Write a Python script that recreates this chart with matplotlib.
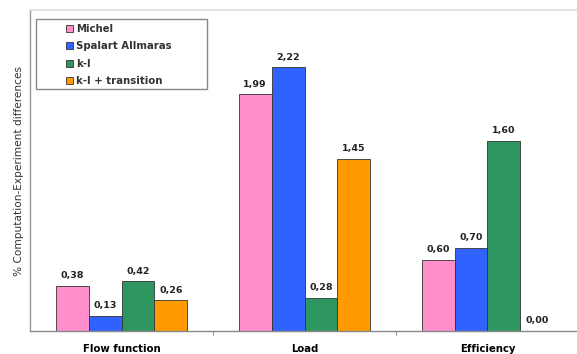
import matplotlib
matplotlib.use("Agg")
import matplotlib.pyplot as plt
from matplotlib.patches import Rectangle
import numpy as np

plt.rcParams['font.family'] = ['DejaVu Sans']

categories = ["Flow function", "Load", "Efficiency"]
series_names = ["Michel", "Spalart Allmaras", "k-l", "k-l + transition"]
michel = [0.38, 1.99, 0.60]
spalart = [0.13, 2.22, 0.70]
kl = [0.42, 0.28, 1.60]
kl_trans = [0.26, 1.45, 0.00]
colors = ["#FF8FCB", "#2F62FF", "#2E9660", "#FF9A00"]

W, H = 577, 354
fig = plt.figure(figsize=(W / 100, H / 100), dpi=100)
ax = fig.add_axes([30 / W, 23 / H, 549 / W, 321 / H])

x = np.arange(len(categories))
width = 0.18
all_series = [michel, spalart, kl, kl_trans]
for i, (vals, name, col) in enumerate(zip(all_series, series_names, colors)):
    pos = x + (i - 1.5) * width
    bars = ax.bar(pos, vals, width, color=col, edgecolor="#333333",
                  linewidth=0.6, label=name, zorder=2)
    for b, v in zip(bars, vals):
        ax.annotate(f"{v:.2f}".replace(".", ","),
                    (b.get_x() + b.get_width() / 2, v),
                    xytext=(0, 4), textcoords="offset points",
                    ha="center", va="bottom", fontsize=6.8,
                    fontweight="bold", color="#222222")

ax.set_xlim(-0.5, 2.5)
ax.set_ylim(0, 2.70)
ax.set_yticks([])
ax.set_xticks([0.5, 1.5])
ax.set_xticklabels([])
ax.set_xticks(x, minor=True)
ax.set_xticklabels(categories, minor=True, fontsize=7.3, fontweight="bold")
ax.tick_params(axis="x", which="major", length=3, width=0.6, color="#777777", direction="out")
ax.tick_params(axis="x", which="minor", length=0, pad=9)

ax.spines["left"].set_color("#999999")
ax.spines["top"].set_color("#DDDDDD")
ax.spines["right"].set_visible(False)
ax.spines["bottom"].set_color("#888888")
ax.spines["left"].set_linewidth(1.0)
ax.spines["top"].set_linewidth(1.2)
ax.spines["bottom"].set_linewidth(1.0)

ax.set_ylabel("% Computation-Experiment differences", fontsize=7.6,
              labelpad=4, color="#333333")

# legend box drawn separately so the entries sit indented inside it
ax.add_patch(Rectangle((36 / W, 1 - 89 / H), (207 - 36) / W, (89 - 19) / H,
                       transform=fig.transFigure, facecolor="white",
                       edgecolor="#888888", linewidth=1.0, zorder=3,
                       clip_on=False))
leg = ax.legend(loc="upper left", bbox_to_anchor=((66 - 30) / 549, 1 - (24 - 10) / 321),
                frameon=False, prop={"weight": "bold", "size": 7.3},
                handlelength=0.7, handleheight=0.7, handletextpad=0.3,
                labelspacing=0.72, borderpad=0.0, borderaxespad=0)
leg.set_zorder(4)
for t in leg.get_texts():
    t.set_color("#333333")

fig.savefig("out.png", dpi=100)
